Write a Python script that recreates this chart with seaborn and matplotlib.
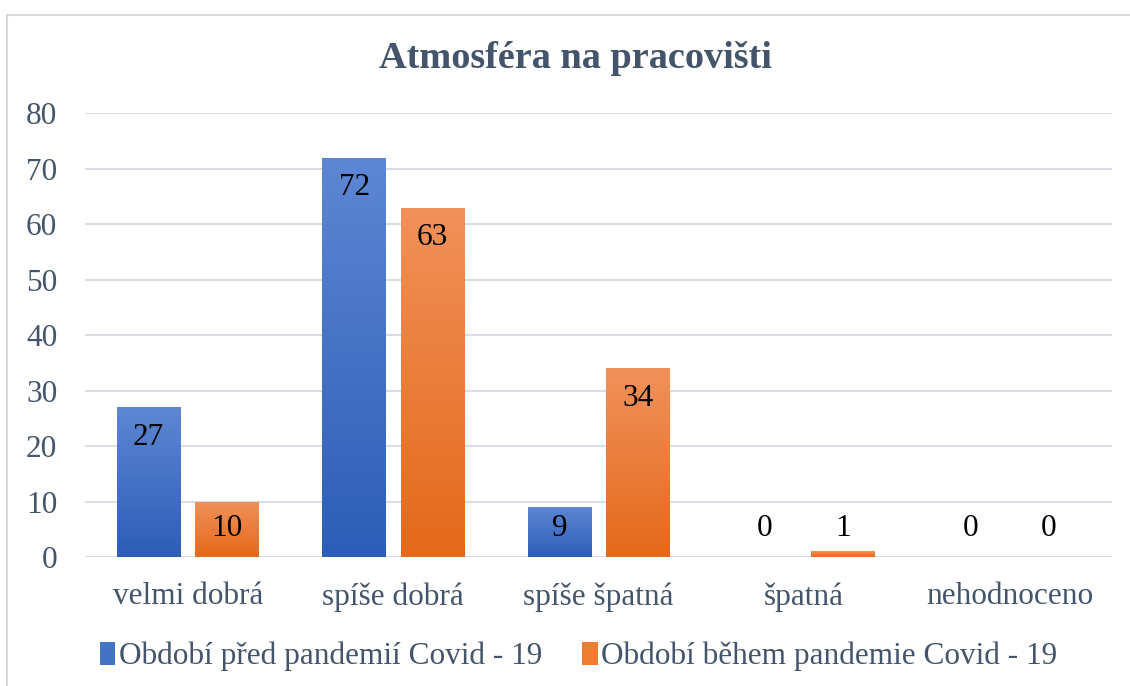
import matplotlib as mpl
mpl.use('agg')
import matplotlib.pyplot as plt
from matplotlib.colors import LinearSegmentedColormap
from matplotlib.patches import Rectangle, Patch
import numpy as np
import pandas as pd
import seaborn as sns

# data
categories = ['velmi dobrá', 'spíše dobrá', 'spíše špatná', 'špatná', 'nehodnoceno']
series = ['Období před pandemií Covid - 19', 'Období během pandemie Covid - 19']
before = [27, 72, 9, 0, 0]
during = [10, 63, 34, 1, 0]
yticks = [0, 10, 20, 30, 40, 50, 60, 70, 80]

df = pd.DataFrame({
    'kategorie': categories * 2,
    'obdobi': [series[0]] * len(categories) + [series[1]] * len(categories),
    'pocet': before + during,
})

# style
sns.set_style('white')
plt.rcParams['font.family'] = ['Liberation Serif', 'DejaVu Serif']
text_color = '#44546A'
grid_color = '#D9DEE6'
base_colors = ['#4472C4', '#ED7D31']
gradients = [('#5E87D3', '#2D5DB7'), ('#F1915B', '#E4691A')]
fs = 22.5

fig = plt.figure(figsize=(11.30, 6.86), dpi=100)
ax = fig.add_axes([0.0752, 0.188, 0.909, 0.647])

sns.barplot(data=df, x='kategorie', y='pocet', hue='obdobi', order=categories,
            hue_order=series, palette=base_colors, saturation=1, width=0.76, gap=0.19,
            errorbar=None, legend=False, ax=ax, zorder=2, linewidth=0)

ax.set_xlim(-0.5, len(categories) - 0.5)
ax.set_ylim(0, 80)
ax.set_yticks(yticks)
ax.grid(axis='y', color=grid_color, linewidth=1.5, zorder=0)
ax.grid(axis='x', visible=False)
for s in ax.spines.values():
    s.set_visible(False)
ax.tick_params(axis='both', length=0, labelsize=fs, labelcolor=text_color)
ax.tick_params(axis='y', pad=20)
ax.tick_params(axis='x', pad=18)
ax.set_xlabel('')
ax.set_ylabel('')

# gradient fill per bar
grad = np.linspace(1, 0, 256).reshape(-1, 1)
bars = [p for p in ax.patches if isinstance(p, Rectangle)]
n = len(categories)
for i, bar in enumerate(bars[:2 * n]):
    top_c, bot_c = gradients[i // n]
    cmap = LinearSegmentedColormap.from_list('g', [bot_c, top_c])
    x0, y0 = bar.get_x(), bar.get_y()
    w, h = bar.get_width(), bar.get_height()
    if h <= 0:
        continue
    im = ax.imshow(grad, cmap=cmap, aspect='auto', extent=[x0, x0 + w, y0, y0 + h],
                   origin='upper', zorder=2.5, vmin=0, vmax=1)
    im.set_clip_path(bar)
ax.set_xlim(-0.5, len(categories) - 0.5)
ax.set_ylim(0, 80)

# data labels
for i, bar in enumerate(bars[:2 * n]):
    v = bar.get_height()
    ax.text(bar.get_x() + bar.get_width() / 2, max(v - 5.4, 5.2), f'{v:.0f}',
            ha='center', va='center', fontsize=fs, color='black', zorder=4)

# title
fig.text(0.509, 0.914, 'Atmosféra na pracovišti', ha='center', va='center',
         fontsize=27.5, fontweight='bold', color=text_color)

# legend
handles = [Patch(facecolor=c, edgecolor='none') for c in base_colors]
leg = fig.legend(handles, series, loc='center', bbox_to_anchor=(0.512, 0.043), ncol=2,
                 frameon=False, fontsize=fs, handlelength=0.5, handleheight=0.75,
                 handletextpad=0.1, columnspacing=1.3, labelcolor=text_color)

# chart area border
fig.patches.append(Rectangle((7 / 1130, -0.1), 1.2, 1.1 - 15 / 686, transform=fig.transFigure,
                             fill=False, edgecolor='#D9D9D9', linewidth=1.5, zorder=0))

fig.savefig('out.png', dpi=100)
